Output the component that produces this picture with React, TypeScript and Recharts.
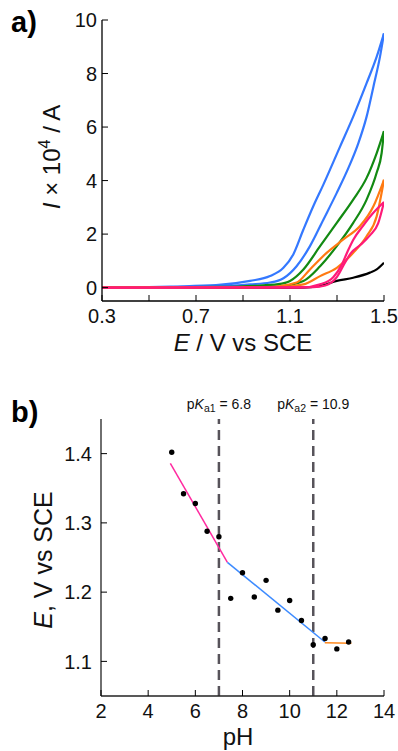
import React from "react";
import {
  ComposedChart,
  Line,
  Scatter,
  XAxis,
  YAxis,
  ReferenceLine,
} from "recharts";

const FONT = "'Liberation Sans', Arial, Helvetica, sans-serif";

// ---- panel a: cyclic voltammograms (E / V vs SCE, I x 10^4 / A) ----
// every colour is drawn as a forward and a return branch
const blueOuter = [
  { e: 0.3, i: 0 }, { e: 0.45, i: 0.01 }, { e: 0.6, i: 0.04 }, { e: 0.785, i: 0.09 },
  { e: 0.93, i: 0.25 }, { e: 1.015, i: 0.43 }, { e: 1.072, i: 0.74 }, { e: 1.114, i: 1.24 },
  { e: 1.157, i: 2.17 }, { e: 1.199, i: 3.04 }, { e: 1.242, i: 3.85 }, { e: 1.313, i: 5.27 },
  { e: 1.369, i: 6.39 }, { e: 1.426, i: 7.64 }, { e: 1.469, i: 8.63 }, { e: 1.5, i: 9.5 },
];
const blueInner = [
  { e: 0.3, i: 0 }, { e: 0.6, i: 0.02 }, { e: 0.8, i: 0.05 }, { e: 0.93, i: 0.12 },
  { e: 1.015, i: 0.19 }, { e: 1.072, i: 0.35 }, { e: 1.128, i: 0.8 }, { e: 1.185, i: 1.55 },
  { e: 1.242, i: 2.54 }, { e: 1.299, i: 3.54 }, { e: 1.35, i: 4.5 }, { e: 1.391, i: 5.4 },
  { e: 1.426, i: 6.39 }, { e: 1.455, i: 7.51 }, { e: 1.483, i: 8.63 }, { e: 1.5, i: 9.5 },
];
const greenOuter = [
  { e: 0.3, i: 0 }, { e: 0.8, i: 0.03 }, { e: 0.95, i: 0.07 }, { e: 1.05, i: 0.13 },
  { e: 1.1, i: 0.25 }, { e: 1.157, i: 0.68 }, { e: 1.228, i: 1.55 }, { e: 1.299, i: 2.42 },
  { e: 1.369, i: 3.29 }, { e: 1.426, i: 4.1 }, { e: 1.469, i: 5.03 }, { e: 1.5, i: 5.85 },
];
const greenInner = [
  { e: 0.3, i: 0 }, { e: 0.9, i: 0.02 }, { e: 1.05, i: 0.05 }, { e: 1.157, i: 0.25 },
  { e: 1.228, i: 0.8 }, { e: 1.299, i: 1.55 }, { e: 1.369, i: 2.42 }, { e: 1.426, i: 3.29 },
  { e: 1.469, i: 4.3 }, { e: 1.49, i: 5.03 }, { e: 1.5, i: 5.85 },
];
const orangeOuter = [
  { e: 0.3, i: 0 }, { e: 1.0, i: 0.02 }, { e: 1.128, i: 0.19 }, { e: 1.185, i: 0.68 },
  { e: 1.256, i: 1.3 }, { e: 1.327, i: 1.8 }, { e: 1.398, i: 2.3 }, { e: 1.455, i: 3.04 },
  { e: 1.5, i: 4.03 },
];
const orangeInner = [
  { e: 0.3, i: 0 }, { e: 1.05, i: 0.02 }, { e: 1.157, i: 0.12 }, { e: 1.228, i: 0.43 },
  { e: 1.299, i: 0.74 }, { e: 1.369, i: 1.3 }, { e: 1.426, i: 1.92 }, { e: 1.469, i: 2.67 },
  { e: 1.5, i: 4.03 },
];
const pinkUpper = [
  { e: 0.3, i: 0 }, { e: 1.15, i: 0 }, { e: 1.228, i: 0.12 }, { e: 1.285, i: 0.4 },
  { e: 1.32, i: 0.85 }, { e: 1.345, i: 1.35 }, { e: 1.37, i: 1.8 }, { e: 1.41, i: 2.3 },
  { e: 1.45, i: 2.75 }, { e: 1.5, i: 3.2 },
];
const pinkLower = [
  { e: 0.3, i: 0 }, { e: 1.2, i: 0.02 }, { e: 1.25, i: 0.08 }, { e: 1.3, i: 0.4 },
  { e: 1.335, i: 0.95 }, { e: 1.36, i: 1.3 }, { e: 1.4, i: 1.6 }, { e: 1.44, i: 1.95 },
  { e: 1.475, i: 2.4 }, { e: 1.5, i: 3.2 },
];
const blank = [
  { e: 0.3, i: 0 }, { e: 1.15, i: 0 }, { e: 1.228, i: 0.06 }, { e: 1.299, i: 0.25 },
  { e: 1.369, i: 0.37 }, { e: 1.44, i: 0.56 }, { e: 1.469, i: 0.68 }, { e: 1.5, i: 0.93 },
];

const cvTicksX = [0.3, 0.5, 0.7, 0.9, 1.1, 1.3, 1.5];
const cvLabelsX = [0.3, 0.7, 1.1, 1.5];
const cvTicksY = [0, 2, 4, 6, 8, 10];

// ---- panel b: peak potential vs pH ----
const phValues = [5, 5.5, 6, 6.5, 7, 7.5, 8, 8.5, 9, 9.5, 10, 10.5, 11, 11.5, 12, 12.5];
const potentials = [
  1.402, 1.342, 1.328, 1.288, 1.28, 1.191, 1.228, 1.193, 1.217, 1.174, 1.188, 1.159,
  1.124, 1.133, 1.118, 1.128,
];
const fitAcid = [{ ph: 4.94, e: 1.386 }, { ph: 7.36, e: 1.243 }];
const fitMid = [{ ph: 7.36, e: 1.243 }, { ph: 11.49, e: 1.128 }];
const fitBase = [{ ph: 11.49, e: 1.127 }, { ph: 12.62, e: 1.126 }];
const pkaLines = [
  { ph: 7, sub: "a1", value: "6.8" },
  { ph: 11, sub: "a2", value: "10.9" },
];
const phTicks = [2, 4, 6, 8, 10, 12, 14];
const eTicks = [1.1, 1.2, 1.3, 1.4];

const points = phValues.map((ph, k) => ({ ph, e: potentials[k] }));

// ticks point inwards, so draw them ourselves next to the labels
const bottomTick = (labels: number[] | null) => (props: any) => {
  const { x, y, payload } = props;
  const show = labels === null || labels.includes(payload.value);
  return (
    <g>
      <line x1={x} x2={x} y1={y} y2={y - 6} stroke="#000" strokeWidth={1} />
      {show && (
        <text x={x} y={y + 22} textAnchor="middle" fontSize={20} fontFamily={FONT} fill="#111">
          {String(payload.value)}
        </text>
      )}
    </g>
  );
};

const leftTick = (gap: number, fmt: (v: number) => string) => (props: any) => {
  const { x, y, payload } = props;
  return (
    <g>
      <line x1={x} x2={x + 6} y1={y} y2={y} stroke="#000" strokeWidth={1} />
      <text x={x - gap} y={y} dy="0.36em" textAnchor="end" fontSize={20} fontFamily={FONT} fill="#111">
        {fmt(payload.value)}
      </text>
    </g>
  );
};

const pkaLabel = (sub: string, value: string) => (props: any) => {
  const vb = props.viewBox || {};
  return (
    <text x={vb.x || 0} y={(vb.y || 0) - 10} textAnchor="middle" fontSize={14} fontFamily={FONT} fill="#111">
      p<tspan fontStyle="italic">K</tspan>
      <tspan fontSize={10.5} dy={3}>{sub}</tspan>
      <tspan dy={-3}> = {value}</tspan>
    </text>
  );
};

const cvLines = [
  { data: blank, color: "#000000" },
  { data: blueOuter, color: "#3478ff" },
  { data: blueInner, color: "#3478ff" },
  { data: greenOuter, color: "#128a12" },
  { data: greenInner, color: "#128a12" },
  { data: orangeOuter, color: "#ff7a12" },
  { data: orangeInner, color: "#ff7a12" },
  { data: pinkUpper, color: "#ff1a78" },
  { data: pinkLower, color: "#ff1a78" },
];

export default function App() {
  return (
    <div style={{ position: "absolute", left: 0, top: 0, width: 398, height: 751, background: "#fff" }}>
      <div style={{ position: "absolute", left: 0, top: 0 }}>
        <ComposedChart width={398} height={370} margin={{ top: 20, right: 14, bottom: 39, left: 42 }}>
          <XAxis
            dataKey="e"
            type="number"
            domain={[0.3, 1.5]}
            ticks={cvTicksX}
            height={30}
            tickLine={false}
            tickSize={0}
            tickMargin={0}
            axisLine={{ stroke: "#000", strokeWidth: 1.3 }}
            tick={bottomTick(cvLabelsX)}
            allowDataOverflow
          />
          <XAxis xAxisId="top" orientation="top" type="number" domain={[0.3, 1.5]} height={0} tick={false} tickLine={false} axisLine={{ stroke: "#555", strokeWidth: 1.3 }} />
          <YAxis
            type="number"
            domain={[-0.5, 10]}
            ticks={cvTicksY}
            width={60}
            tickLine={false}
            tickSize={0}
            tickMargin={0}
            axisLine={{ stroke: "#000", strokeWidth: 1.3 }}
            tick={leftTick(5, (v) => String(v))}
            allowDataOverflow
          />
          <YAxis yAxisId="right" orientation="right" type="number" domain={[-0.5, 10]} width={0} tick={false} tickLine={false} axisLine={{ stroke: "#555", strokeWidth: 1.3 }} />
          {cvLines.map((c, k) => (
            <Line
              key={k}
              data={c.data}
              dataKey="i"
              type="monotone"
              stroke={c.color}
              strokeWidth={2.2}
              dot={false}
              isAnimationActive={false}
            />
          ))}
        </ComposedChart>
      </div>

      <div style={{ position: "absolute", left: 0, top: 370 }}>
        <ComposedChart width={398} height={381} margin={{ top: 49, right: 14, bottom: 25, left: 41 }}>
          <XAxis
            dataKey="ph"
            type="number"
            domain={[2, 14]}
            ticks={phTicks}
            height={30}
            tickLine={false}
            tickSize={0}
            tickMargin={0}
            axisLine={{ stroke: "#222", strokeWidth: 1.3 }}
            tick={bottomTick(null)}
            allowDataOverflow
          />
          <XAxis xAxisId="top" orientation="top" type="number" domain={[2, 14]} height={0} tick={false} tickLine={false} axisLine={{ stroke: "#555", strokeWidth: 1.3 }} />
          <YAxis
            dataKey="e"
            type="number"
            domain={[1.05, 1.45]}
            ticks={eTicks}
            width={60}
            tickLine={false}
            tickSize={0}
            tickMargin={0}
            axisLine={{ stroke: "#222", strokeWidth: 1.3 }}
            tick={leftTick(9, (v) => v.toFixed(1))}
            allowDataOverflow
          />
          <YAxis yAxisId="right" orientation="right" type="number" domain={[1.05, 1.45]} width={0} tick={false} tickLine={false} axisLine={{ stroke: "#555", strokeWidth: 1.3 }} />
          {pkaLines.map((p) => (
            <ReferenceLine
              key={p.sub}
              x={p.ph}
              stroke="#57535a"
              strokeWidth={2.5}
              strokeDasharray="10 6"
              label={pkaLabel(p.sub, p.value)}
            />
          ))}
          <Line data={fitAcid} dataKey="e" type="linear" stroke="#ff2aa0" strokeWidth={1.5} dot={false} isAnimationActive={false} />
          <Line data={fitMid} dataKey="e" type="linear" stroke="#3d8bff" strokeWidth={1.5} dot={false} isAnimationActive={false} />
          <Line data={fitBase} dataKey="e" type="linear" stroke="#ff8a1f" strokeWidth={1.5} dot={false} isAnimationActive={false} />
          <Scatter
            data={points}
            dataKey="e"
            fill="#000"
            isAnimationActive={false}
            shape={(p: any) => <circle cx={p.cx} cy={p.cy} r={2.7} fill="#000" />}
          />
        </ComposedChart>
      </div>

      <svg width={398} height={751} style={{ position: "absolute", left: 0, top: 0, pointerEvents: "none" }}>
        <text x={11} y={32} fontSize={29} fontWeight="bold" fontFamily={FONT} fill="#000">a)</text>
        <text x={11} y={422} fontSize={29} fontWeight="bold" fontFamily={FONT} fill="#000">b)</text>
        <text transform="translate(60,157) rotate(-90)" textAnchor="middle" fontSize={24} fontFamily={FONT} fill="#111">
          <tspan fontStyle="italic">I</tspan> × 10<tspan fontSize={16} dy={-10}>4</tspan>
          <tspan dy={10}> / A</tspan>
        </text>
        <text x={243} y={351} textAnchor="middle" fontSize={24} fontFamily={FONT} fill="#111">
          <tspan fontStyle="italic">E</tspan> / V vs SCE
        </text>
        <text transform="translate(52,560) rotate(-90)" textAnchor="middle" fontSize={25} fontFamily={FONT} fill="#111">
          <tspan fontStyle="italic">E</tspan>, V vs SCE
        </text>
        <text x={238} y={745} textAnchor="middle" fontSize={24} fontFamily={FONT} fill="#111">pH</text>
      </svg>
    </div>
  );
}
